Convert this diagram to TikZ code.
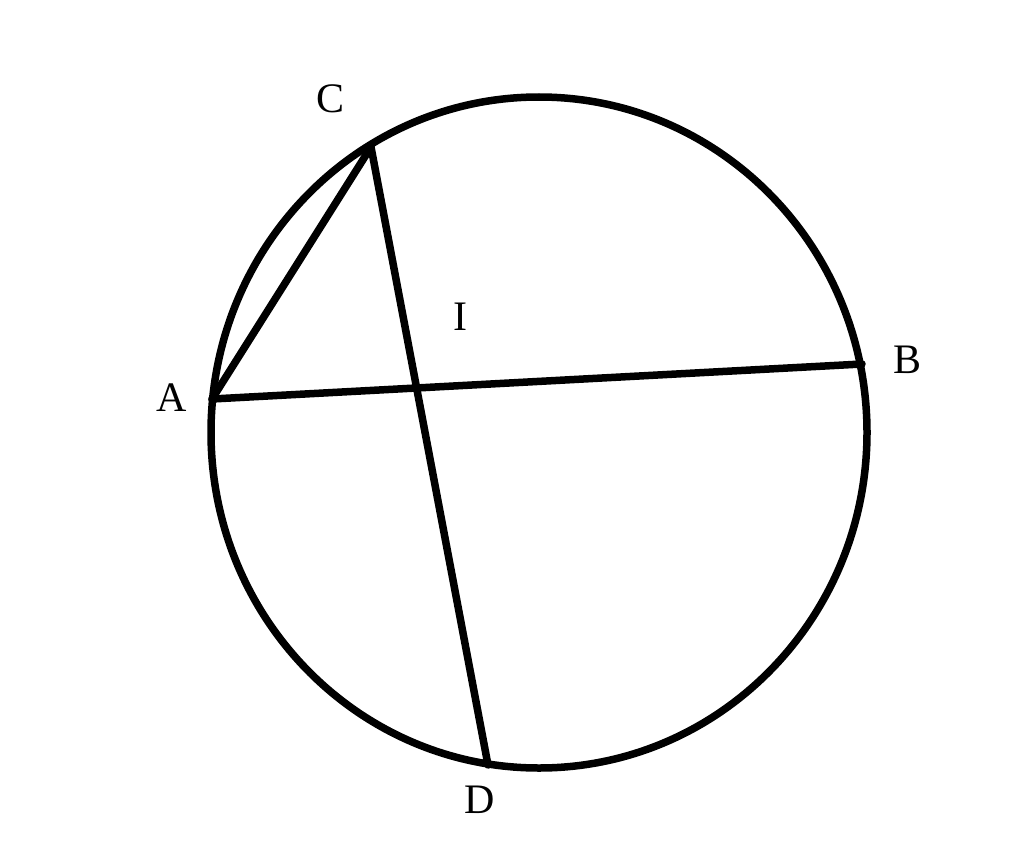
\documentclass[tikz,border=0pt]{standalone}
\usepackage{fontspec}
\setmainfont{Liberation Serif}
\begin{document}
\begin{tikzpicture}[y=-1pt, x=1pt, inner sep=0pt, outer sep=0pt,
  edge/.style={draw=black,line width=7.5pt,line join=miter,line cap=round},
  lbl/.style={font=\fontsize{42}{46}\selectfont}]
  \useasboundingbox (0,0) rectangle (1024,864);
  \path[draw=black,line width=7.5pt] (539,432.5) ellipse (328pt and 335.5pt);
  \coordinate (A) at (212,399);
  \coordinate (B) at (862,364);
  \coordinate (C) at (371,147);
  \coordinate (D) at (488,765);
  \path[edge] (A) -- (B);
  \path[edge] (C) -- (D);
  \path[edge] (A) -- (C);
  \node[lbl] (textA) at (172,398) {A};
  \node[lbl] (textB) at (907,360) {B};
  \node[lbl] (textC) at (331,99) {C};
  \node[lbl] (textD) at (480,800) {D};
  \node[lbl] (textI) at (460,317) {I};
\end{tikzpicture}
\end{document}
